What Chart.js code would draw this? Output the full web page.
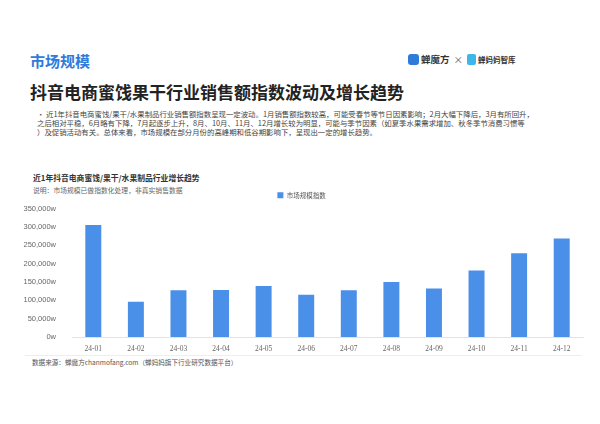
<!DOCTYPE html>
<html>
<head>
<meta charset="utf-8">
<script src="https://cdn.jsdelivr.net/npm/chart.js@4"></script>
<style>
    body { margin: 0; background: #fff; font-family: "Noto Sans CJK SC", sans-serif; }
    #page { position: relative; width: 600px; height: 424px; overflow: hidden; }
    .txt { position: absolute; white-space: nowrap; }
    #section { left: 30px; top: 50px; font-size: 15px; font-weight: bold; color: #2f7bd9; }
    #brand { left: 408px; top: 52px; font-size: 9.5px; font-weight: bold; color: #333; }
    #brand .ico { display: inline-block; width: 11px; height: 11px; border-radius: 3px; background: #2f7bd9; vertical-align: -2px; margin-right: 2px; }
    #brand .ico2 { display: inline-block; width: 9px; height: 11px; border-radius: 2px; background: #3fb6e8; vertical-align: -2px; margin-right: 2px; }
    #brand .x { font-weight: normal; color: #666; margin: 0 4px; }
    #brand .small { font-size: 7.5px; }
    #title { left: 30px; top: 79px; font-size: 17px; font-weight: bold; color: #222; }
    #desc { left: 37px; top: 109px; font-size: 7.4px; line-height: 9.2px; color: #444; }
    #subtitle { left: 33px; top: 172px; font-size: 7.8px; font-weight: bold; color: #333; }
    #note { left: 33px; top: 185px; font-size: 6.8px; color: #666; }
    #source { left: 32px; top: 357px; font-size: 6.6px; color: #555; }
    #sep { position: absolute; left: 25px; top: 355px; width: 557px; height: 1px; background: #eee; }
    #box { position: absolute; left: 20px; top: 186px; width: 580px; height: 168px; }
</style>
</head>
<body>
<div id="page">
    <div class="txt" id="section">市场规模</div>
    <div class="txt" id="brand"><span class="ico"></span>蝉魔方<span class="x">×</span><span class="ico2"></span><span class="small">蝉妈妈智库</span></div>
    <div class="txt" id="title">抖音电商蜜饯果干行业销售额指数波动及增长趋势</div>
    <div class="txt" id="desc">·&nbsp;近1年抖音电商蜜饯/果干/水果制品行业销售额指数呈现一定波动。1月销售额指数较高，可能受春节等节日因素影响；2月大幅下降后，3月有所回升，<br>之后相对平稳，6月略有下降，7月起逐步上升，8月、10月、11月、12月增长较为明显，可能与季节因素（如夏季水果需求增加、秋冬季节消费习惯等<br>）及促销活动有关。总体来看，市场规模在部分月份的高峰期和低谷期影响下，呈现出一定的增长趋势。</div>
    <div class="txt" id="subtitle">近1年抖音电商蜜饯/果干/水果制品行业增长趋势</div>
    <div class="txt" id="note">说明：市场规模已做指数化处理，非真实销售数据</div>
    <div id="box"><canvas id="barChart"></canvas></div>
    <div id="sep"></div>
    <div class="txt" id="source">数据来源：蝉魔方chanmofang.com（蝉妈妈旗下行业研究数据平台）</div>
</div>
<script>
// 月份
const months = ['24-01', '24-02', '24-03', '24-04', '24-05', '24-06',
                '24-07', '24-08', '24-09', '24-10', '24-11', '24-12'];
// 市场规模指数
const marketIndex = [305000, 96000, 127000, 128000, 139000, 115000,
                     127000, 150000, 132000, 181000, 228000, 268000];
const seriesName = '市场规模指数';
const yTicks = [0, 50000, 100000, 150000, 200000, 250000, 300000, 350000];

document.addEventListener('DOMContentLoaded', () => {
    const ctx = document.getElementById('barChart').getContext('2d');
    new Chart(ctx, {
        type: 'bar',
        data: {
            labels: months,
            datasets: [{
                label: seriesName,
                data: marketIndex,
                backgroundColor: '#4a8fe8',
                barPercentage: 0.375,
                categoryPercentage: 1
            }]
        },
        options: {
            responsive: true,
            maintainAspectRatio: false,
            animation: false,
            layout: { padding: { top: 0, right: 17, bottom: 0, left: 0 } },
            plugins: {
                legend: {
                    display: true,
                    position: 'top',
                    labels: {
                        boxWidth: 6,
                        boxHeight: 6,
                        padding: 6,
                        color: '#555',
                        font: { family: 'Noto Sans CJK SC', size: 6.5 }
                    }
                },
                tooltip: { enabled: false }
            },
            scales: {
                x: {
                    grid: { display: false },
                    border: { color: '#e3e3e3' },
                    ticks: {
                        color: '#666',
                        padding: 0,
                        maxRotation: 0,
                        font: { family: 'Liberation Serif', size: 7.5 }
                    }
                },
                y: {
                    min: 0,
                    max: 350000,
                    grid: { display: false },
                    border: { display: false },
                    afterFit: (scale) => { scale.width = 52; },
                    afterBuildTicks: (scale) => {
                        scale.ticks = yTicks.map(v => ({ value: v }));
                    },
                    ticks: {
                        color: '#666',
                        padding: 8,
                        font: { family: 'Liberation Sans', size: 7.5 },
                        callback: (v) => v.toLocaleString('en-US') + 'w'
                    }
                }
            }
        }
    });
});
</script>
</body>
</html>
